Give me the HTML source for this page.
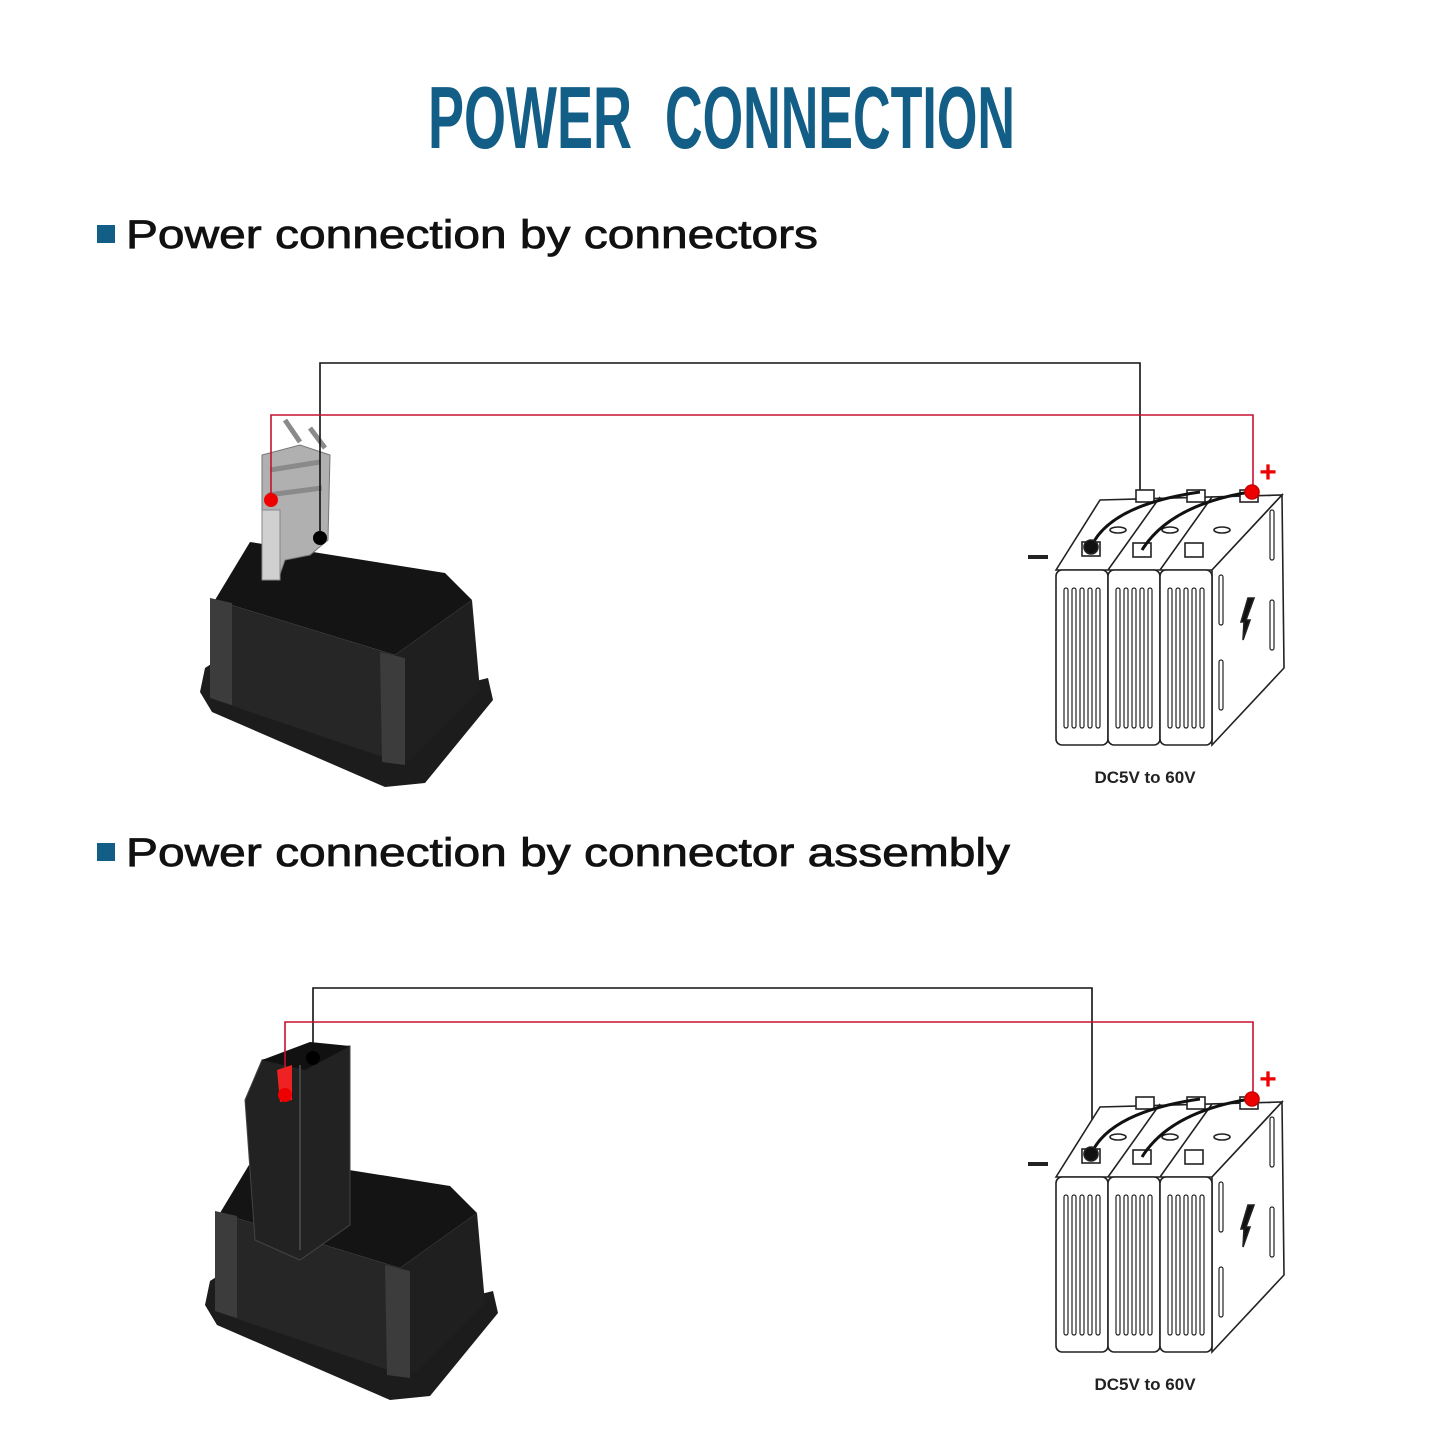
<!DOCTYPE html>
<html><head><meta charset="utf-8"><style>
html,body{margin:0;padding:0;background:#fff}
svg{display:block}
</style></head><body>
<svg width="1445" height="1445" viewBox="0 0 1445 1445" xmlns="http://www.w3.org/2000/svg">
<defs>
<g id="batt" fill="#fff" stroke="#222" stroke-width="1.6">
  <path d="M1056 570 L1100 500 L1282 495 L1212 570 Z"/>
  <path d="M1212 570 L1282 495 L1284 668 L1212 745 Z"/>
  <rect x="1056" y="570" width="52" height="175" rx="6"/>
  <rect x="1108" y="570" width="52" height="175" rx="6"/>
  <rect x="1160" y="570" width="52" height="175" rx="6"/>
  <g stroke-width="1.2">
    <rect x="1064" y="588" width="4" height="140" rx="2"/><rect x="1072" y="588" width="4" height="140" rx="2"/><rect x="1080" y="588" width="4" height="140" rx="2"/><rect x="1088" y="588" width="4" height="140" rx="2"/><rect x="1096" y="588" width="4" height="140" rx="2"/>
    <rect x="1116" y="588" width="4" height="140" rx="2"/><rect x="1124" y="588" width="4" height="140" rx="2"/><rect x="1132" y="588" width="4" height="140" rx="2"/><rect x="1140" y="588" width="4" height="140" rx="2"/><rect x="1148" y="588" width="4" height="140" rx="2"/>
    <rect x="1168" y="588" width="4" height="140" rx="2"/><rect x="1176" y="588" width="4" height="140" rx="2"/><rect x="1184" y="588" width="4" height="140" rx="2"/><rect x="1192" y="588" width="4" height="140" rx="2"/><rect x="1200" y="588" width="4" height="140" rx="2"/>
    <rect x="1219" y="575" width="4" height="50" rx="2"/><rect x="1219" y="660" width="4" height="50" rx="2"/>
    <rect x="1270" y="510" width="4" height="50" rx="2"/><rect x="1270" y="600" width="4" height="50" rx="2"/>
  </g>
  <path d="M1108 570 L1160 497 M1160 570 L1212 497" fill="none"/>
  <rect x="1082" y="542" width="18" height="14"/><rect x="1133" y="543" width="18" height="14"/><rect x="1185" y="543" width="18" height="14"/>
  <rect x="1136" y="490" width="18" height="12"/><rect x="1187" y="490" width="18" height="12"/><rect x="1240" y="490" width="18" height="12"/>
  <ellipse cx="1118" cy="530" rx="8" ry="3"/><ellipse cx="1170" cy="530" rx="8" ry="3"/><ellipse cx="1222" cy="530" rx="8" ry="3"/>
  <path d="M1091 547 Q1110 505 1200 492 M1142 550 Q1170 505 1250 492" fill="none" stroke="#111" stroke-width="3"/>
  <path d="M1248 598 L1254 598 L1246 620 L1250 620 L1243 640 L1244 622 L1241 622 Z" fill="#111"/>
  <circle cx="1091" cy="547" r="7" fill="#111"/>
  <circle cx="1252" cy="492" r="7" fill="#e00" stroke="#c00"/>
  <text x="1145" y="783" font-family="Liberation Sans, sans-serif" font-weight="bold" font-size="17" fill="#222" stroke="none" text-anchor="middle">DC5V to 60V</text>
  <text x="1268" y="482" font-family="Liberation Sans, sans-serif" font-weight="bold" font-size="30" fill="#e00" stroke="none" text-anchor="middle">+</text>
  <rect x="1028" y="555" width="20" height="4" fill="#222" stroke="none"/>
</g>
<g id="dev">
  <path d="M205 668 L225 655 L440 690 L488 678 L493 700 L425 783 L385 787 L212 712 L200 692 Z" fill="#1c1c1c"/>
  <path d="M215 600 L250 542 L445 573 L472 600 L395 655 Z" fill="#141414"/>
  <path d="M215 600 L395 655 L392 760 L215 700 Z" fill="#262626"/>
  <path d="M395 655 L472 600 L480 690 L410 760 L392 760 Z" fill="#1f1f1f"/>
  <path d="M210 598 L232 603 L232 705 L210 698 Z M380 652 L405 658 L405 765 L382 762 Z" fill="#3c3c3c"/>
</g>
</defs>

<g font-family="Liberation Sans Narrow, Liberation Sans, sans-serif" font-weight="bold" font-size="88" fill="#135e86">
<text x="428" y="148" textLength="204" lengthAdjust="spacingAndGlyphs">POWER</text>
<text x="665" y="148" textLength="350" lengthAdjust="spacingAndGlyphs">CONNECTION</text>
</g>

<rect x="97" y="225" width="18" height="18" fill="#135e86"/>
<text x="126" y="248" font-family="Liberation Sans, sans-serif" font-size="40" fill="#111" stroke="#111" stroke-width="0.8" textLength="692" lengthAdjust="spacingAndGlyphs">Power connection by connectors</text>
<rect x="97" y="843" width="18" height="18" fill="#135e86"/>
<text x="126" y="866" font-family="Liberation Sans, sans-serif" font-size="40" fill="#111" stroke="#111" stroke-width="0.8" textLength="884" lengthAdjust="spacingAndGlyphs">Power connection by connector assembly</text>

<!-- section 1 -->
<use href="#dev"/>
<path d="M262 455 L300 445 L330 455 L328 540 L310 555 L285 560 L278 580 L262 580 Z" fill="#b0b0b0" stroke="#777"/>
<path d="M285 420 L300 442 M310 428 L325 448 M270 470 L320 462 M268 495 L322 488" stroke="#8a8a8a" stroke-width="5"/>
<rect x="262" y="510" width="18" height="70" fill="#d0d0d0" stroke="#888"/>
<polyline points="320,538 320,363 1140,363 1140,548" fill="none" stroke="#111" stroke-width="1.6"/>
<polyline points="271,500 271,415 1253,415 1253,492" fill="none" stroke="#c8102e" stroke-width="1.6"/>
<circle cx="271" cy="500" r="7" fill="#e00"/>
<circle cx="320" cy="538" r="7" fill="#000"/>
<use href="#batt"/>

<!-- section 2 -->
<use href="#dev" transform="translate(5,613)"/>
<path d="M245 1100 L262 1060 L350 1046 L350 1225 L300 1260 L255 1240 Z" fill="#222" stroke="#444"/>
<path d="M262 1060 L310 1042 L350 1046 L305 1070 Z" fill="#111"/>
<path d="M300 1065 L300 1250" stroke="#444" stroke-width="2"/>
<polyline points="313,1058 313,988 1092,988 1092,1153" fill="none" stroke="#111" stroke-width="1.6"/>
<polyline points="285,1095 285,1022 1253,1022 1253,1098" fill="none" stroke="#c8102e" stroke-width="1.6"/>
<path d="M277 1070 L292 1065 L292 1100 L280 1102 Z" fill="#e22"/>
<circle cx="285" cy="1095" r="7" fill="#e00"/>
<circle cx="313" cy="1058" r="7" fill="#000"/>
<use href="#batt" transform="translate(0,607)"/>
</svg>
</body></html>
